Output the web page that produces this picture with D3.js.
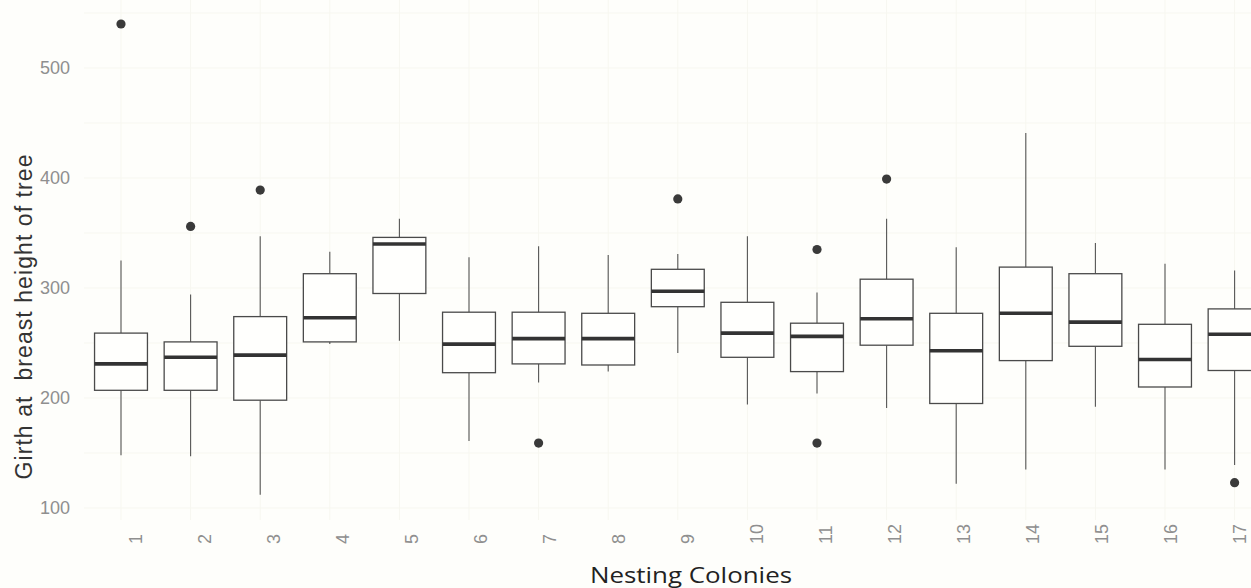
<!DOCTYPE html>
<html>
<head>
<meta charset="utf-8">
<script src="https://cdn.jsdelivr.net/npm/d3@7"></script>
<style>
  html, body { margin: 0; padding: 0; background: #fefefb; }
  svg { display: block; }
</style>
</head>
<body>
<svg id="chart" width="1251" height="588"></svg>
<script>
// Girth at breast height of nesting trees, summarised per colony
const colonies     = ["1","2","3","4","5","6","7","8","9","10","11","12","13","14","15","16","17"];
const lowerWhisker = [148, 147, 112, 249, 252, 161, 214, 224, 241, 194, 204, 191, 122, 135, 192, 135, 139];
const q1           = [207, 207, 198, 251, 295, 223, 231, 230, 283, 237, 224, 248, 195, 234, 247, 210, 225];
const medians      = [231, 237, 239, 273, 340, 249, 254, 254, 297, 259, 256, 272, 243, 277, 269, 235, 258];
const q3           = [259, 251, 274, 313, 346, 278, 278, 277, 317, 287, 268, 308, 277, 319, 313, 267, 281];
const upperWhisker = [325, 294, 347, 333, 363, 328, 338, 330, 331, 347, 296, 363, 337, 441, 341, 322, 316];
const outlierColony = ["1", "2", "3", "7", "9", "11", "11", "12", "17"];
const outlierValue  = [540, 356, 389, 159, 381, 335, 159, 399, 123];
const yTicks = [100, 200, 300, 400, 500];

const boxes = colonies.map((c, i) => ({
  colony: c, lo: lowerWhisker[i], q1: q1[i], med: medians[i], q3: q3[i], hi: upperWhisker[i]
}));
const outliers = outlierColony.map((c, i) => ({ colony: c, value: outlierValue[i] }));

const svg = d3.select("#chart");

const x = d3.scaleBand()
  .domain(colonies)
  .range([86.2, 1269.4])
  .paddingInner(0.24)
  .paddingOuter(0.12);

// tick labels sit slightly to the right of each box
const xLabel = d3.scalePoint().domain(colonies).range([141, 1245]);

const y = d3.scaleLinear().domain([100, 500]).range([508, 68]);

const cx = d => x(d) + x.bandwidth() / 2;

// very faint background grid
const grid = svg.append("g").attr("stroke", "#f7f7f0").attr("stroke-width", 1);
grid.selectAll("line.h")
  .data(d3.range(100, 551, 50))
  .join("line")
  .attr("x1", 84).attr("x2", 1251)
  .attr("y1", d => y(d)).attr("y2", d => y(d));
grid.selectAll("line.v")
  .data(colonies)
  .join("line")
  .attr("x1", d => cx(d)).attr("x2", d => cx(d))
  .attr("y1", 0).attr("y2", 520);

// whiskers
const g = svg.append("g");
g.selectAll("line.upper")
  .data(boxes)
  .join("line")
  .attr("x1", d => cx(d.colony)).attr("x2", d => cx(d.colony))
  .attr("y1", d => y(d.q3)).attr("y2", d => y(d.hi))
  .attr("stroke", "#555").attr("stroke-width", 1.1);
g.selectAll("line.lower")
  .data(boxes)
  .join("line")
  .attr("x1", d => cx(d.colony)).attr("x2", d => cx(d.colony))
  .attr("y1", d => y(d.q1)).attr("y2", d => y(d.lo))
  .attr("stroke", "#555").attr("stroke-width", 1.1);

// boxes
g.selectAll("rect.box")
  .data(boxes)
  .join("rect")
  .attr("x", d => x(d.colony))
  .attr("width", x.bandwidth())
  .attr("y", d => y(d.q3))
  .attr("height", d => y(d.q1) - y(d.q3))
  .attr("fill", "#fffffd")
  .attr("stroke", "#4a4a4a")
  .attr("stroke-width", 1.3);

// medians
g.selectAll("line.median")
  .data(boxes)
  .join("line")
  .attr("x1", d => x(d.colony)).attr("x2", d => x(d.colony) + x.bandwidth())
  .attr("y1", d => y(d.med)).attr("y2", d => y(d.med))
  .attr("stroke", "#333").attr("stroke-width", 3.6);

// outliers
g.selectAll("circle.outlier")
  .data(outliers)
  .join("circle")
  .attr("cx", d => cx(d.colony))
  .attr("cy", d => y(d.value))
  .attr("r", 4.6)
  .attr("fill", "#3a3a3a");

// y axis labels
const yAxis = svg.append("g")
  .attr("transform", "translate(70,0)")
  .call(d3.axisLeft(y).tickValues(yTicks).tickSize(0).tickPadding(0));
yAxis.select(".domain").remove();
yAxis.selectAll("text")
  .attr("fill", "#8f8f8f")
  .attr("font-family", "'Liberation Sans', Arial, sans-serif")
  .attr("font-size", 18);

// x axis labels, rotated
const xAxis = svg.append("g")
  .attr("transform", "translate(0,544)")
  .call(d3.axisBottom(xLabel).tickSize(0).tickPadding(0));
xAxis.select(".domain").remove();
xAxis.selectAll("text")
  .attr("fill", "#8f8f8f")
  .attr("font-family", "'Liberation Sans', Arial, sans-serif")
  .attr("font-size", 18)
  .attr("transform", "rotate(-90)")
  .attr("text-anchor", "start")
  .attr("x", 0)
  .attr("y", 0)
  .attr("dy", 0);

// axis titles
svg.append("text")
  .attr("transform", "translate(32,317) rotate(-90)")
  .attr("text-anchor", "middle")
  .attr("font-family", "'Liberation Sans', Arial, sans-serif")
  .attr("font-size", 23)
  .attr("fill", "#333")
  .attr("textLength", 325)
  .attr("lengthAdjust", "spacing")
  .attr("xml:space", "preserve")
  .text("Girth at  breast height of tree");

svg.append("text")
  .attr("x", 691)
  .attr("y", 583)
  .attr("text-anchor", "middle")
  .attr("font-family", "'Open Sans', sans-serif")
  .attr("font-size", 22)
  .attr("fill", "#222")
  .attr("textLength", 202)
  .attr("lengthAdjust", "spacingAndGlyphs")
  .text("Nesting Colonies");
</script>
</body>
</html>
